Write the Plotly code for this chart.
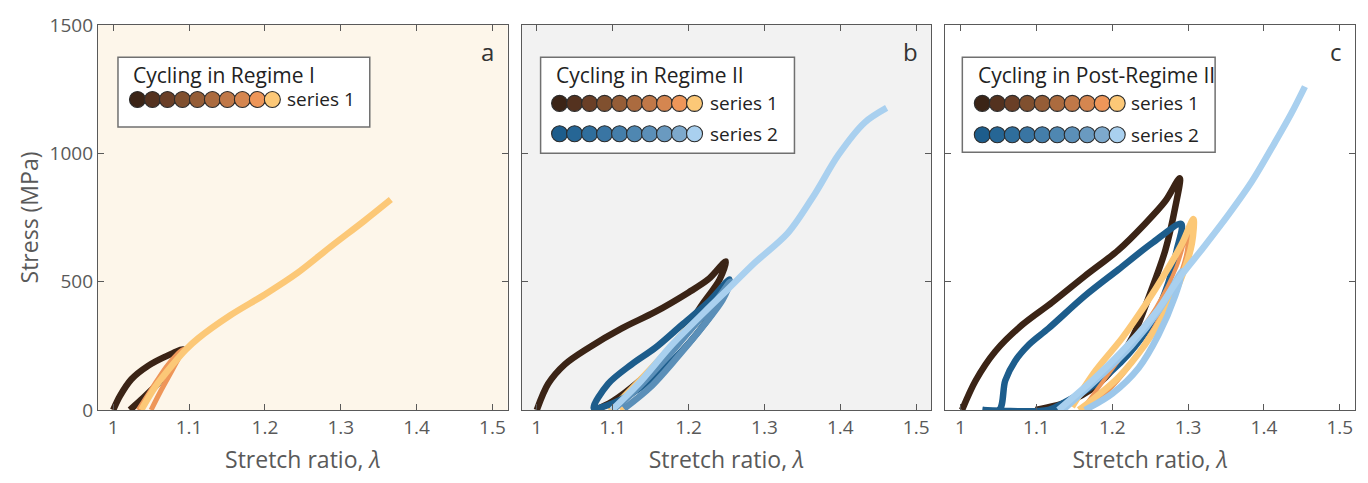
import plotly.graph_objects as go

# ---------------- data: stretch ratio (lambda) vs stress (MPa) ----------------
# Panel a - cycling in Regime I
A_S1_C1_LAM = [1.000, 1.009, 1.024, 1.046, 1.068, 1.092, 1.086, 1.076, 1.059, 1.037, 1.022]
A_S1_C1_SIG = [0, 55, 120, 172, 207, 236, 212, 165, 103, 40, 0]
A_S1_C9_LAM = [1.033, 1.045, 1.058, 1.072, 1.092, 1.086, 1.075, 1.062, 1.050]
A_S1_C9_SIG = [0, 55, 115, 175, 236, 200, 140, 70, 0]
A_S1_C10_LAM = [1.037, 1.055, 1.077, 1.096, 1.112, 1.155, 1.200, 1.243, 1.287, 1.331, 1.366]
A_S1_C10_SIG = [0, 88, 172, 236, 279, 370, 450, 534, 637, 737, 820]

# Panel b - cycling in Regime II
B_S1_C1_LAM = [1.000, 1.015, 1.037, 1.068, 1.112, 1.156, 1.200, 1.226, 1.249, 1.241, 1.217, 1.178, 1.134, 1.099, 1.077]
B_S1_C1_SIG = [0, 102, 178, 242, 318, 382, 458, 509, 579, 509, 407, 235, 110, 32, 0]
B_S1_C10_LAM = [1.095, 1.130, 1.165, 1.200, 1.225, 1.247, 1.238, 1.215, 1.180, 1.145, 1.110]
B_S1_C10_SIG = [0, 105, 215, 331, 410, 490, 420, 320, 190, 75, 0]
B_S2_C1_LAM = [1.075, 1.094, 1.125, 1.156, 1.191, 1.226, 1.254, 1.243, 1.213, 1.169, 1.125, 1.094, 1.075]
B_S2_C1_SIG = [8, 102, 178, 242, 331, 420, 509, 432, 305, 165, 64, 19, 8]
B_S2_C6_LAM = [1.100, 1.135, 1.170, 1.205, 1.235, 1.255, 1.245, 1.220, 1.185, 1.150, 1.115]
B_S2_C6_SIG = [0, 90, 200, 320, 420, 500, 430, 330, 205, 90, 5]
B_S2_C10_LAM = [1.099, 1.134, 1.178, 1.221, 1.252, 1.287, 1.331, 1.366, 1.397, 1.432, 1.461]
B_S2_C10_SIG = [0, 102, 254, 382, 471, 573, 690, 840, 992, 1120, 1177]

# Panel c - cycling in Post-Regime II
C_S1_C1_LAM = [1.002, 1.020, 1.046, 1.081, 1.121, 1.164, 1.208, 1.243, 1.270, 1.289, 1.283, 1.270, 1.252, 1.226, 1.191, 1.147, 1.099]
C_S1_C1_SIG = [0, 115, 229, 331, 420, 522, 623, 725, 814, 903, 789, 623, 471, 280, 127, 38, 0]
C_S1_C9_LAM = [1.160, 1.190, 1.225, 1.258, 1.285, 1.300, 1.297, 1.280, 1.255, 1.225, 1.190, 1.165]
C_S1_C9_SIG = [0, 120, 260, 400, 560, 700, 600, 460, 320, 180, 60, 0]
C_S1_C10_LAM = [1.147, 1.178, 1.213, 1.243, 1.270, 1.292, 1.307, 1.305, 1.292, 1.270, 1.243, 1.208, 1.173, 1.156]
C_S1_C10_SIG = [13, 153, 280, 407, 534, 649, 744, 649, 522, 382, 254, 127, 38, 0]
C_S2_C1_LAM = [1.029, 1.051, 1.059, 1.072, 1.090, 1.116, 1.164, 1.208, 1.252, 1.291, 1.285, 1.274, 1.252, 1.221, 1.178, 1.134, 1.116, 1.029]
C_S2_C1_SIG = [0, 0, 115, 191, 254, 318, 445, 547, 649, 725, 623, 496, 343, 216, 102, 25, 0, 0]
C_S2_C9_LAM = [1.135, 1.180, 1.225, 1.262, 1.292, 1.283, 1.261, 1.235, 1.200, 1.164]
C_S2_C9_SIG = [0, 120, 250, 390, 540, 445, 293, 165, 64, 0]
C_S2_C10_LAM = [1.129, 1.178, 1.221, 1.261, 1.287, 1.322, 1.353, 1.384, 1.414, 1.436, 1.454]
C_S2_C10_SIG = [0, 127, 254, 394, 509, 640, 760, 890, 1040, 1155, 1260]

# cycle colour ramps (cycle 1 ... cycle 10)
SERIES1_COLORS = ["#3B2416", "#54321F", "#6A3F27", "#80502F", "#955D37",
                  "#AB6B3F", "#C07848", "#D58650", "#EE9659", "#FCC877"]
SERIES2_COLORS = ["#1D5D8C", "#266695", "#2F6E9C", "#3975A3", "#447EAA",
                  "#4F87B1", "#5B8FB8", "#6A9AC0", "#7DA9CC", "#A9D0EF"]

PANEL_TITLES = ["Cycling in Regime I", "Cycling in Regime II", "Cycling in Post-Regime II"]
PANEL_LETTERS = ["a", "b", "c"]
SERIES_NAMES = ["series 1", "series 2"]

X_TICKS = [1, 1.1, 1.2, 1.3, 1.4, 1.5]
Y_TICKS = [0, 500, 1000, 1500]

FONT = "Open Sans"
AX_GREY = "#595959"

fig = go.Figure()


def add_curve(lam, sig, color, panel, width=6.5):
    sfx = "" if panel == 1 else str(panel)
    fig.add_trace(go.Scatter(
        x=lam, y=sig, mode="lines",
        line=dict(color=color, width=width, shape="spline", smoothing=0.9),
        xaxis="x" + sfx, yaxis="y" + sfx, showlegend=False, hoverinfo="skip"))


# panel a
add_curve(A_S1_C1_LAM, A_S1_C1_SIG, SERIES1_COLORS[0], 1)
add_curve(A_S1_C9_LAM, A_S1_C9_SIG, SERIES1_COLORS[8], 1, 5)
add_curve(A_S1_C10_LAM, A_S1_C10_SIG, SERIES1_COLORS[9], 1)
# panel b
add_curve(B_S1_C1_LAM, B_S1_C1_SIG, SERIES1_COLORS[0], 2)
add_curve(B_S1_C10_LAM, B_S1_C10_SIG, SERIES1_COLORS[9], 2, 4)
add_curve(B_S2_C1_LAM, B_S2_C1_SIG, SERIES2_COLORS[0], 2)
add_curve(B_S2_C6_LAM, B_S2_C6_SIG, SERIES2_COLORS[6], 2)
add_curve(B_S2_C10_LAM, B_S2_C10_SIG, SERIES2_COLORS[9], 2)
# panel c
add_curve(C_S1_C1_LAM, C_S1_C1_SIG, SERIES1_COLORS[0], 3)
add_curve(C_S2_C1_LAM, C_S2_C1_SIG, SERIES2_COLORS[0], 3)
add_curve(C_S1_C9_LAM, C_S1_C9_SIG, SERIES1_COLORS[8], 3, 4)
add_curve(C_S1_C10_LAM, C_S1_C10_SIG, SERIES1_COLORS[9], 3)
add_curve(C_S2_C9_LAM, C_S2_C9_SIG, "#9CC7EA", 3)
add_curve(C_S2_C10_LAM, C_S2_C10_SIG, SERIES2_COLORS[9], 3)

# ---------------- layout ----------------
DOMAINS = [[0.0, 0.3259], [0.3370, 0.6630], [0.6741, 1.0]]
PANEL_W, PANEL_H = 410.0, 393.0   # plot-area size of one panel in px
PANEL_BG = ["#FDF6EA", "#F2F2F2", "#FFFFFF"]

# legend layout per panel, in px from the panel's top-left corner
LEG_BOX = [(20, 33, 272, 104), (19, 33, 273, 131), (17, 33, 270, 130)]
LEG_TITLE_POS = [(33, 51), (32, 51), (31, 51)]
LEG_ROW_Y = [[76], [80, 111], [80, 112]]
LEG_DOT_X0 = [39.5, 38, 37]
LEG_DOT_STEP = 15
LEG_LABEL_X = [187, 186, 184]
LEG_ROWS = [1, 2, 2]

shapes, annotations = [], []
layout_axes = {}
for p in range(3):
    sfx = "" if p == 0 else str(p + 1)
    layout_axes["xaxis" + sfx] = dict(
        domain=DOMAINS[p], range=[0.98, 1.52], tickvals=X_TICKS,
        ticks="inside", ticklen=6, tickcolor=AX_GREY, showline=True, linecolor=AX_GREY,
        linewidth=1.3, mirror="ticks", showgrid=False, zeroline=False,
        tickfont=dict(family=FONT, size=19, color=AX_GREY),
        title=dict(text="Stretch ratio, <i>λ</i>", font=dict(family=FONT, size=23, color=AX_GREY),
                   standoff=12),
        anchor="y" + sfx)
    layout_axes["yaxis" + sfx] = dict(
        domain=[0, 1], range=[0, 1500], tickvals=Y_TICKS,
        ticks="inside", ticklen=6, tickcolor=AX_GREY, showline=True, linecolor=AX_GREY,
        linewidth=1.3, mirror="ticks", showgrid=False, zeroline=False,
        showticklabels=(p == 0),
        tickfont=dict(family=FONT, size=19, color=AX_GREY),
        title=dict(text="Stress (MPa)" if p == 0 else "",
                   font=dict(family=FONT, size=23, color=AX_GREY), standoff=4),
        anchor="x" + sfx)

    # overlay axes measured in px from the panel's top-left corner (legend drawing)
    ox, oy = "x" + str(p + 4), "y" + str(p + 4)
    layout_axes["xaxis" + str(p + 4)] = dict(overlaying="x" + sfx, range=[0, PANEL_W], visible=False,
                                             fixedrange=True)
    layout_axes["yaxis" + str(p + 4)] = dict(overlaying="y" + sfx, range=[PANEL_H, 0], visible=False,
                                             fixedrange=True)

    xd, yd = "x" + sfx + " domain", "y" + sfx + " domain"
    shapes.append(dict(type="rect", xref=xd, yref=yd, x0=0, x1=1, y0=0, y1=1,
                       fillcolor=PANEL_BG[p], line=dict(width=0), layer="below"))
    bx0, by0, bx1, by1 = LEG_BOX[p]
    shapes.append(dict(type="rect", xref=xd, yref=yd,
                       x0=bx0 / PANEL_W, x1=bx1 / PANEL_W,
                       y0=1 - by1 / PANEL_H, y1=1 - by0 / PANEL_H,
                       fillcolor="white", line=dict(color="#707070", width=1.5), layer="below"))

    tx, ty = LEG_TITLE_POS[p]
    annotations.append(dict(xref=ox, yref=oy, x=tx, y=ty, xanchor="left", yanchor="middle",
                            text=PANEL_TITLES[p], showarrow=False,
                            font=dict(family=FONT, size=21, color="#222222")))
    annotations.append(dict(xref=xd, yref=yd, x=0.972, y=0.93, xanchor="right", yanchor="middle",
                            text=PANEL_LETTERS[p], showarrow=False,
                            font=dict(family=FONT, size=24, color="#333333")))

    for r in range(LEG_ROWS[p]):
        colors = SERIES1_COLORS if r == 0 else SERIES2_COLORS
        ry = LEG_ROW_Y[p][r]
        fig.add_trace(go.Scatter(
            x=[LEG_DOT_X0[p] + LEG_DOT_STEP * i for i in range(len(colors))],
            y=[ry] * len(colors), mode="markers",
            marker=dict(size=16, color=colors, line=dict(color="#2B2B2B", width=1.1)),
            xaxis=ox, yaxis=oy, showlegend=False, hoverinfo="skip", cliponaxis=False))
        annotations.append(dict(xref=ox, yref=oy, x=LEG_LABEL_X[p], y=ry, xanchor="left",
                                yanchor="middle", text=SERIES_NAMES[r], showarrow=False,
                                font=dict(family=FONT, size=19, color="#222222")))

fig.update_layout(
    width=1368, height=483,
    margin=dict(l=98, r=12, t=17, b=73),
    paper_bgcolor="white", plot_bgcolor="white",
    shapes=shapes, annotations=annotations,
    showlegend=False,
    **layout_axes)

fig.write_html("out.html")
